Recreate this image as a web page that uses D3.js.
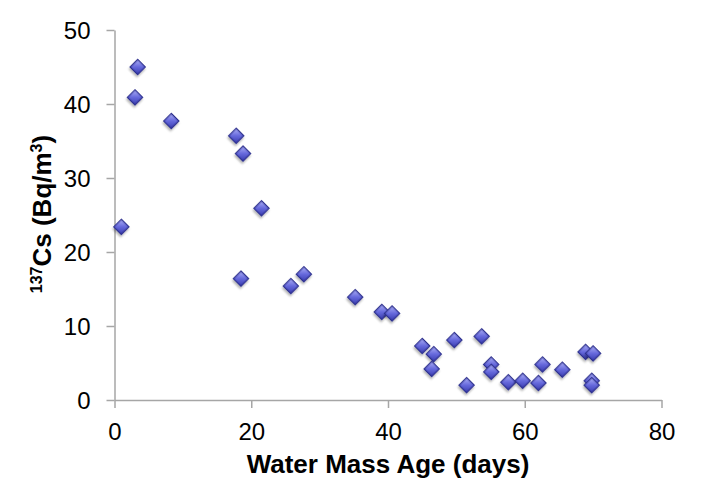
<!DOCTYPE html>
<html><head><meta charset="utf-8">
<script src="https://cdn.jsdelivr.net/npm/d3@7"></script>
<style>body{margin:0;background:#fff}svg{display:block}</style>
</head><body>
<svg id="c" width="720" height="489"></svg>
<script>
const ageDays = [3.4,3.0,8.3,17.8,18.8,21.5,1.0,18.5,25.8,27.7,35.2,39.1,40.6,45.0,46.7,46.4,49.7,51.5,53.7,55.1,55.1,57.6,59.7,62.0,62.6,65.5,68.9,70.0,69.8,69.8];
const cs137 = [45.0,40.9,37.7,35.7,33.3,25.9,23.4,16.4,15.4,17.0,13.9,11.9,11.7,7.3,6.2,4.2,8.1,2.0,8.6,4.8,3.8,2.4,2.6,2.3,4.8,4.1,6.5,6.3,2.6,2.0];
const xTicks = [0,20,40,60,80];
const yTicks = [0,10,20,30,40,50];

const svg = d3.select("#c");
const x = d3.scaleLinear().domain([0,80]).range([114.5,661.5]);
const y = d3.scaleLinear().domain([0,50]).range([400,30]);
const axisColor = "#a6a6a6";
const font = "'Liberation Sans', Arial, sans-serif";

const defs = svg.append("defs");
const g = defs.append("linearGradient").attr("id","mk").attr("x1","0").attr("y1","0").attr("x2","1").attr("y2","1");
g.append("stop").attr("offset","0%").attr("stop-color","#aeb1f6");
g.append("stop").attr("offset","50%").attr("stop-color","#6669dc");
g.append("stop").attr("offset","100%").attr("stop-color","#3a3db0");
const f = defs.append("filter").attr("id","sh").attr("x","-50%").attr("y","-50%").attr("width","200%").attr("height","200%");
f.append("feDropShadow").attr("dx",1).attr("dy",2).attr("stdDeviation",1.2).attr("flood-color","#000").attr("flood-opacity",0.3);

// axes
const xa = svg.append("g").attr("transform",`translate(0,${y(0)})`)
  .call(d3.axisBottom(x).tickValues(xTicks).tickSize(8).tickPadding(15).tickSizeOuter(0));
const ya = svg.append("g").attr("transform",`translate(${x(0)},0)`)
  .call(d3.axisLeft(y).tickValues(yTicks).tickSize(8).tickPadding(16).tickSizeOuter(0));
[xa,ya].forEach(a=>{
  a.select(".domain").attr("stroke",axisColor).attr("stroke-width",1.5);
  a.selectAll(".tick line").attr("stroke",axisColor).attr("stroke-width",1.5);
  a.selectAll(".tick text").attr("fill","#000").style("font-family",font).style("font-size","24px");
});
ya.selectAll(".tick text").attr("dy","0.35em");

// markers
const sym = d3.symbol(d3.symbolSquare, 112);
svg.append("g").selectAll("path").data(ageDays.map((a,i)=>[a,cs137[i]])).join("path")
  .attr("d", sym)
  .attr("transform", d=>`translate(${x(d[0])},${y(d[1])}) rotate(45)`)
  .attr("fill","url(#mk)")
  .attr("stroke","#2b2d8c").attr("stroke-width",1.2)
  .attr("filter","url(#sh)");

// titles
svg.append("text").attr("x",388).attr("y",473).attr("text-anchor","middle")
  .style("font-family",font).style("font-size","26px").style("font-weight","bold")
  .text("Water Mass Age (days)");
const yt = svg.append("text").attr("transform","translate(51,214) rotate(-90)").attr("text-anchor","middle")
  .style("font-family",font).style("font-size","26px").style("font-weight","bold");
yt.append("tspan").attr("font-size","16px").attr("dy","-9").text("137");
yt.append("tspan").attr("dy","9").text("Cs (Bq/m");
yt.append("tspan").attr("font-size","16px").attr("dy","-9").text("3");
yt.append("tspan").attr("dy","9").text(")");
</script>
</body></html>
